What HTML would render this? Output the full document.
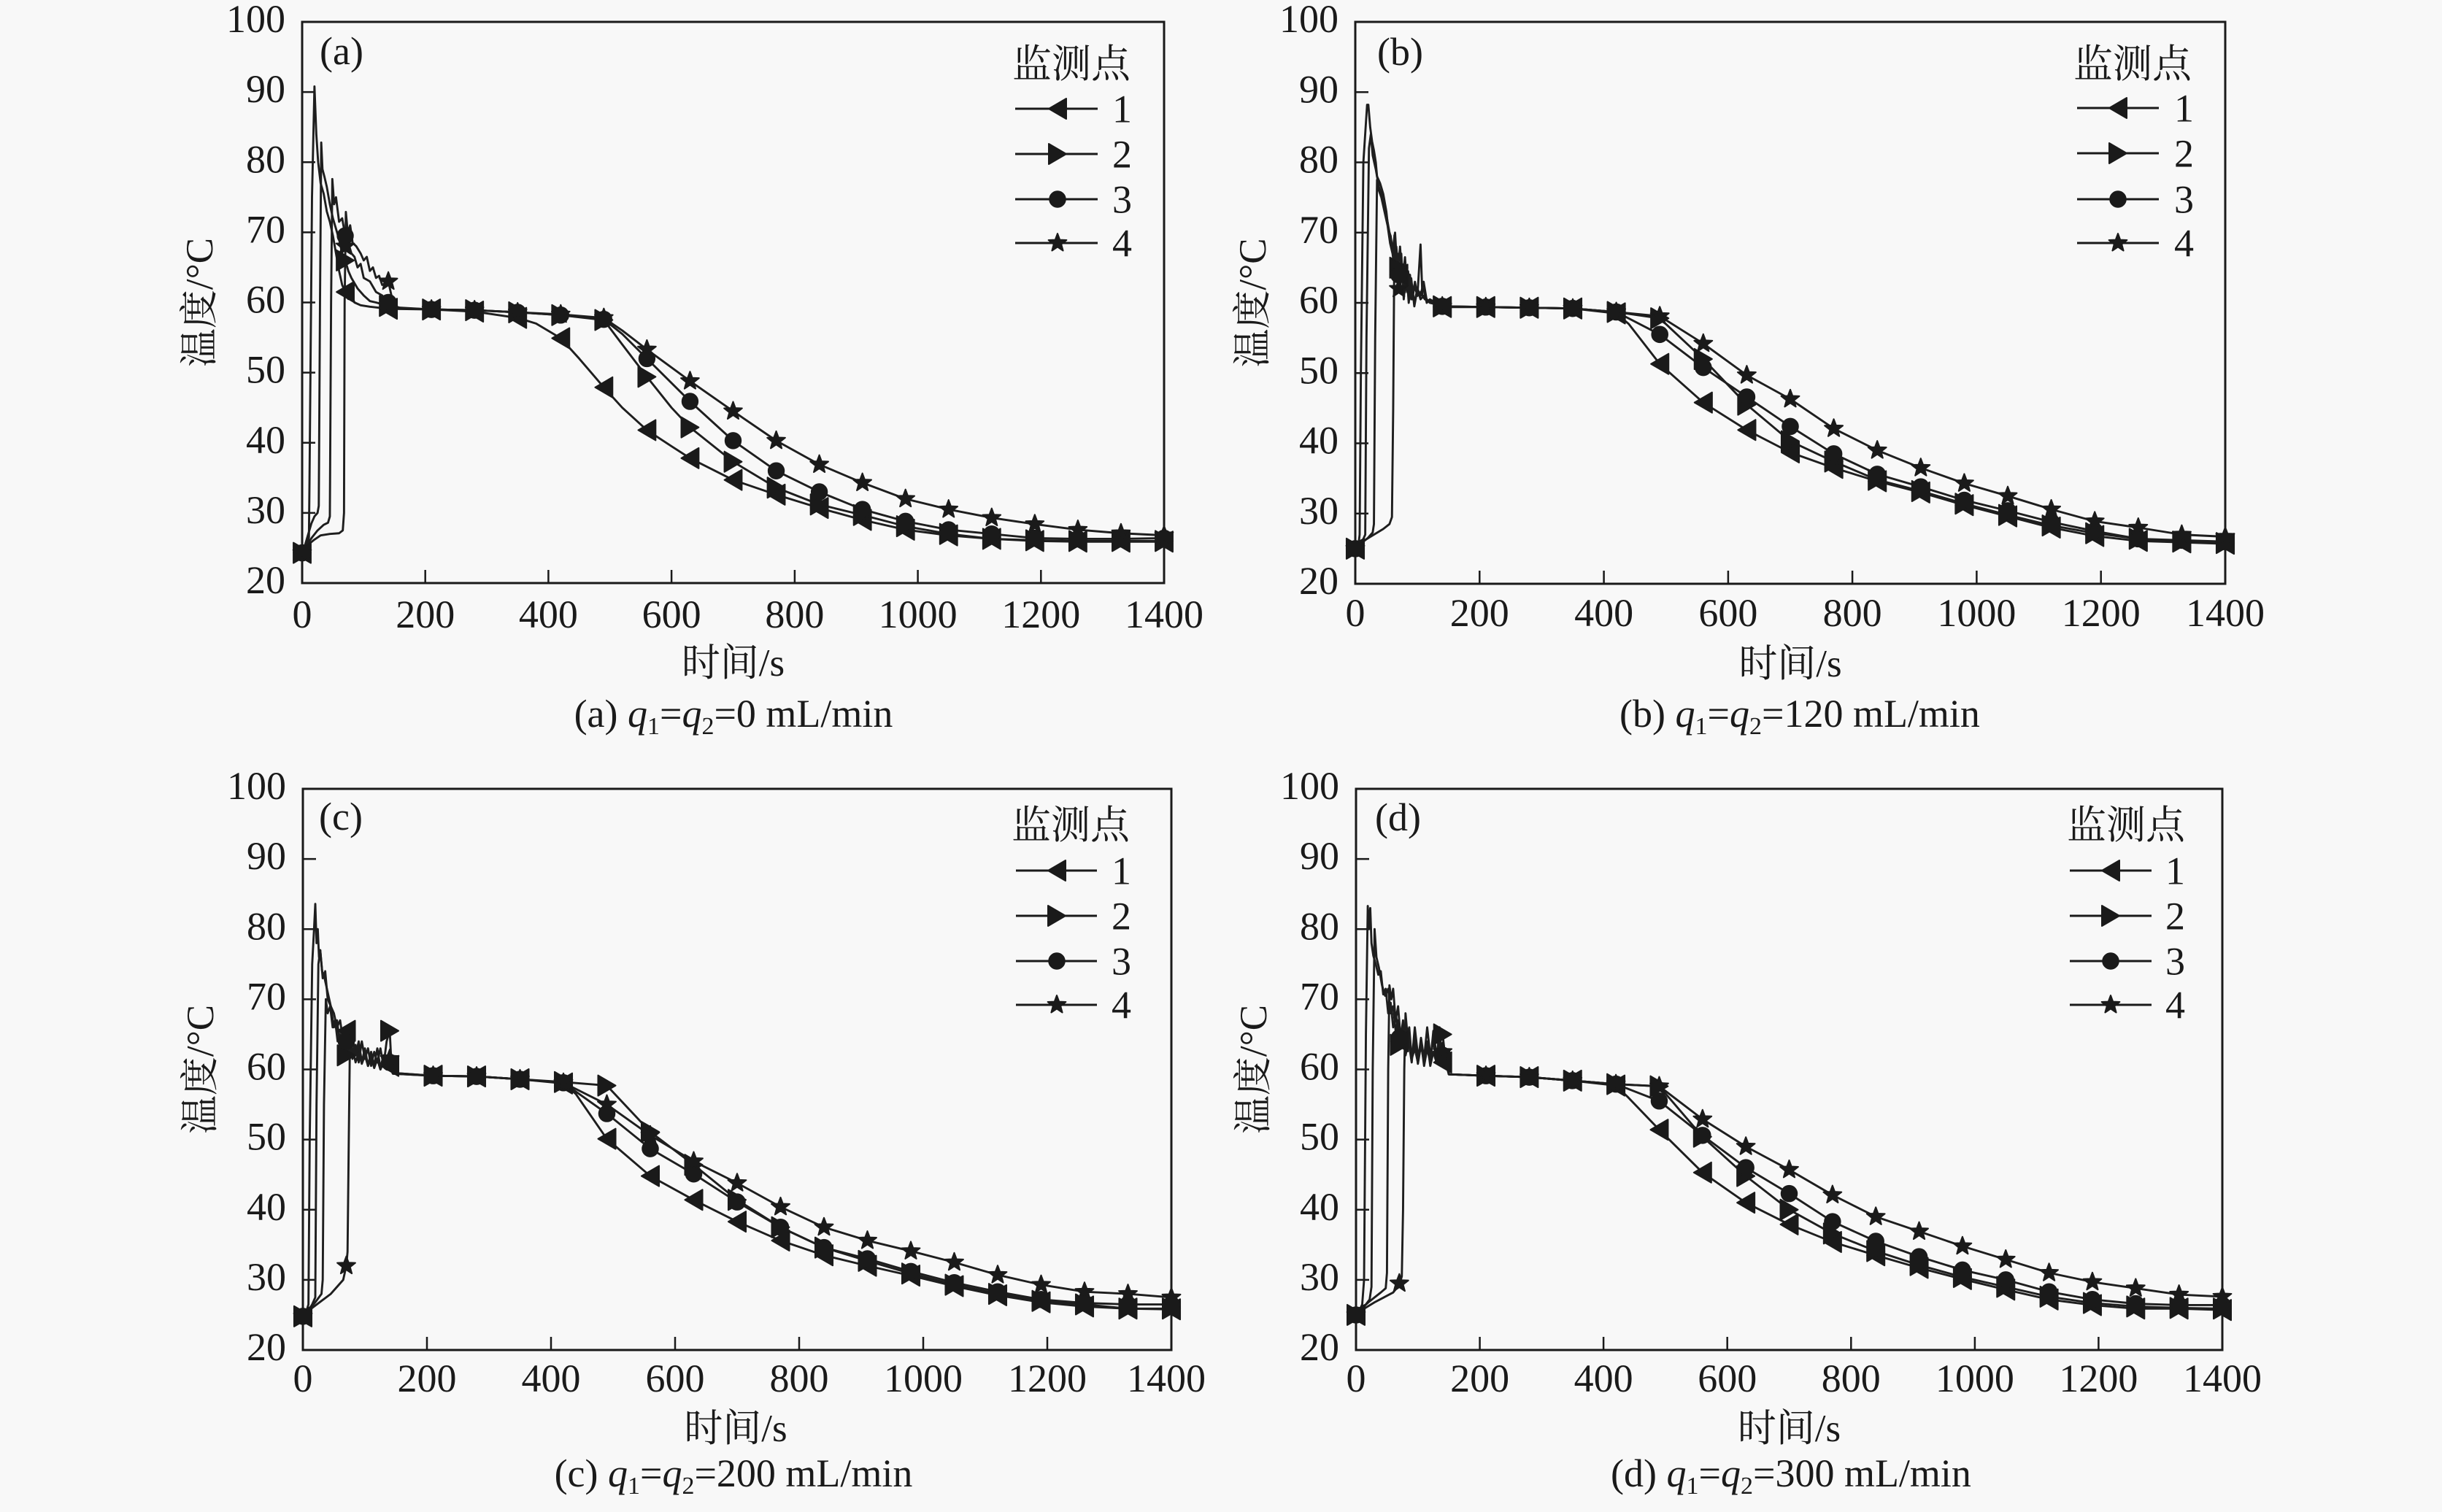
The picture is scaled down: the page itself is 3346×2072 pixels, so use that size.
<!DOCTYPE html>
<html><head><meta charset="utf-8"><style>
html,body{margin:0;padding:0;background:#f8f8f8;}
svg{display:block;font-family:"Liberation Serif","Noto Serif CJK SC",serif;}
text{font-family:"Liberation Serif","Noto Serif CJK SC",serif;fill:#1a1a1a;}
.ln{fill:none;stroke:#1e1e1e;stroke-width:2.9;vector-effect:non-scaling-stroke;stroke-linejoin:round;}
.ax{fill:none;stroke:#1a1a1a;stroke-width:3;}
.tk{fill:none;stroke:#1a1a1a;stroke-width:2.5;}
.lg{stroke:#1a1a1a;stroke-width:3;}
.t54{font-size:54px;}
</style></head><body>
<svg width="3346" height="2072" viewBox="0 0 3346 2072" xmlns="http://www.w3.org/2000/svg" font-family="Liberation Serif, Noto Serif CJK SC, serif">
<rect width="3346" height="2072" fill="#f8f8f8"/>
<defs>
<path id="pL" d="M-12,0L12,-14L12,14Z" stroke="#1a1a1a" stroke-width="2" stroke-linejoin="round"/>
<path id="pR" d="M12,0L-12,-14L-12,14Z" stroke="#1a1a1a" stroke-width="2" stroke-linejoin="round"/>
<circle id="pC" r="11" stroke="#1a1a1a" stroke-width="1.5"/>
<path id="pS" d="M0,-13L3.2,-4.4L12.4,-4L5.2,1.7L7.6,10.5L0,5.4L-7.6,10.5L-5.2,1.7L-12.4,-4L-3.2,-4.4Z" stroke="#1a1a1a" stroke-width="2" stroke-linejoin="round"/>
<g id="mL" transform="scale(1.1792,-0.10403)"><use href="#pL"/></g>
<g id="mR" transform="scale(1.1792,-0.10403)"><use href="#pR"/></g>
<g id="mC" transform="scale(1.1792,-0.10403)"><use href="#pC"/></g>
<g id="mS" transform="scale(1.1792,-0.10403)"><use href="#pS"/></g>
</defs>

<!-- ================= PANEL A ================= -->
<g>
<rect class="ax" x="414" y="30" width="1181" height="769"/>
<path class="tk" d="M414,702.9h18M414,606.75h18M414,510.6h18M414,414.5h18M414,318.4h18M414,222.25h18M414,126.1h18M582.7,799v-18M751.4,799v-18M920.1,799v-18M1088.9,799v-18M1257.6,799v-18M1426.3,799v-18"/>
<g class="t54" text-anchor="end">
<text x="391" y="44">100</text><text x="391" y="140.1">90</text><text x="391" y="236.25">80</text><text x="391" y="332.4">70</text><text x="391" y="428.5">60</text><text x="391" y="524.6">50</text><text x="391" y="620.75">40</text><text x="391" y="716.9">30</text><text x="391" y="813">20</text>
</g>
<g class="t54" text-anchor="middle">
<text x="414" y="860">0</text><text x="582.7" y="860">200</text><text x="751.4" y="860">400</text><text x="920.1" y="860">600</text><text x="1088.9" y="860">800</text><text x="1257.6" y="860">1000</text><text x="1426.3" y="860">1200</text><text x="1595" y="860">1400</text>
</g>
<text x="438" y="88" class="t54">(a)</text>
<text transform="translate(291,414.5) rotate(-90)" text-anchor="middle" font-size="53">温度/°C</text>
<text x="1004.5" y="926" text-anchor="middle" font-size="53">时间/s</text>
<text x="1005" y="996" text-anchor="middle" class="t54">(a) <tspan font-style="italic">q</tspan><tspan font-size="34" dy="10">1</tspan><tspan dy="-10">=</tspan><tspan font-style="italic">q</tspan><tspan font-size="34" dy="10">2</tspan><tspan dy="-10">=0 mL/min</tspan></text>
<text x="1549" y="106" text-anchor="end" class="t54">监测点</text>
<path class="lg" d="M1391,149H1504M1391,211H1504M1391,273H1504M1391,333H1504"/>
<g fill="#1a1a1a"><use href="#pL" x="1449" y="149"/><use href="#pR" x="1449" y="211"/><use href="#pC" x="1449" y="273"/><use href="#pS" x="1449" y="333"/></g>
<g class="t54"><text x="1524" y="167.5">1</text><text x="1524" y="229.5">2</text><text x="1524" y="291.5">3</text><text x="1524" y="351.5">4</text></g>
<g transform="matrix(0.84357 0 0 -9.6125 414 991.25)" fill="#1a1a1a">
<polyline class="ln" points="0,24.3 6,25 11,26.5 12,35 16,75 20,90.8 23,84 26,80 30,77 35,75.5 40,73 45,71.5 50,69.5 55,67 60,64.5 65,62.5 70,61.5 75,60.5 80,61 85,60 95,59.6 110,59.4 140,59.1 210,59 280,58.7 350,57.8 380,57 420,54.9 450,52 490,47.9 520,45 560,41.8 600,39.5 630,37.8 700,34.7 770,32.6 840,30.7 910,29 980,27.6 1050,26.8 1120,26.3 1190,26 1260,25.9 1330,25.9 1400,25.9"/>
<polyline class="ln" points="0,24.3 5,25.5 10,27 15,28.5 20,29.5 25,30 27,31 29,60 31,82.8 33,79 36,78 40,76.5 45,74 50,72 55,70.5 60,69 65,67 70,66 75,64.5 80,63.5 90,62 100,61 110,60.2 120,60 140,59.5 150,59.2 210,59 280,58.9 350,58.6 420,58.2 490,57.5 520,54 560,49.4 600,45 630,42.2 700,37.3 770,33.6 840,31.2 910,29.7 980,28.1 1050,27 1120,26.3 1190,26.1 1260,26 1330,26 1400,26"/>
<polyline class="ln" points="0,24.3 8,25.5 16,26.5 25,27.5 35,28.3 42,28.6 45,29.5 47,60 49,77.6 52,74 55,75 60,71.5 65,72 70,69.5 75,68.5 80,67 85,66.5 90,65 95,65.5 100,63.5 110,63 120,61.5 130,61 140,60 150,59.3 210,59 280,58.9 350,58.6 420,58.2 490,57.6 520,55.5 560,52 630,45.9 700,40.3 770,36 840,33 910,30.5 980,28.8 1050,27.6 1120,27 1190,26.4 1260,26.3 1330,26.3 1400,26.4"/>
<polyline class="ln" points="0,24.3 10,25.5 20,26.2 30,26.8 45,27 60,27.1 66,27.5 68,30 69,60 71,72.9 74,70 78,71 82,68.5 88,68 95,67 100,66 105,66.5 110,64.5 115,65 120,63.5 125,63.8 130,62.5 140,63 145,61 150,59.5 160,59.2 210,59 280,58.9 350,58.6 420,58.3 490,57.8 520,56 560,53.3 630,48.8 700,44.5 770,40.3 840,36.9 910,34.3 980,32 1050,30.5 1120,29.3 1190,28.4 1260,27.6 1330,27.1 1400,26.8"/>
<use href="#mL" x="0" y="24.3"/><use href="#mL" x="70" y="61.5"/><use href="#mL" x="140" y="59.1"/><use href="#mL" x="210" y="59"/><use href="#mL" x="280" y="58.7"/><use href="#mL" x="350" y="57.8"/><use href="#mL" x="420" y="54.9"/><use href="#mL" x="490" y="47.9"/><use href="#mL" x="560" y="41.8"/><use href="#mL" x="630" y="37.8"/><use href="#mL" x="700" y="34.7"/><use href="#mL" x="770" y="32.6"/><use href="#mL" x="840" y="30.7"/><use href="#mL" x="910" y="29"/><use href="#mL" x="980" y="27.6"/><use href="#mL" x="1050" y="26.8"/><use href="#mL" x="1120" y="26.3"/><use href="#mL" x="1190" y="26"/><use href="#mL" x="1260" y="25.9"/><use href="#mL" x="1330" y="25.9"/><use href="#mL" x="1400" y="25.9"/>
<use href="#mR" x="0" y="24.3"/><use href="#mR" x="70" y="66"/><use href="#mR" x="140" y="59.5"/><use href="#mR" x="210" y="59"/><use href="#mR" x="280" y="58.9"/><use href="#mR" x="350" y="58.6"/><use href="#mR" x="420" y="58.2"/><use href="#mR" x="490" y="57.5"/><use href="#mR" x="560" y="49.4"/><use href="#mR" x="630" y="42.2"/><use href="#mR" x="700" y="37.3"/><use href="#mR" x="770" y="33.6"/><use href="#mR" x="840" y="31.2"/><use href="#mR" x="910" y="29.7"/><use href="#mR" x="980" y="28.1"/><use href="#mR" x="1050" y="27"/><use href="#mR" x="1120" y="26.3"/><use href="#mR" x="1190" y="26.1"/><use href="#mR" x="1260" y="26"/><use href="#mR" x="1330" y="26"/><use href="#mR" x="1400" y="26"/>
<use href="#mC" x="0" y="24.3"/><use href="#mC" x="70" y="69.5"/><use href="#mC" x="140" y="60"/><use href="#mC" x="210" y="59"/><use href="#mC" x="280" y="58.9"/><use href="#mC" x="350" y="58.6"/><use href="#mC" x="420" y="58.2"/><use href="#mC" x="490" y="57.6"/><use href="#mC" x="560" y="52"/><use href="#mC" x="630" y="45.9"/><use href="#mC" x="700" y="40.3"/><use href="#mC" x="770" y="36"/><use href="#mC" x="840" y="33"/><use href="#mC" x="910" y="30.5"/><use href="#mC" x="980" y="28.8"/><use href="#mC" x="1050" y="27.6"/><use href="#mC" x="1120" y="27"/><use href="#mC" x="1190" y="26.4"/><use href="#mC" x="1260" y="26.3"/><use href="#mC" x="1330" y="26.3"/><use href="#mC" x="1400" y="26.4"/>
<use href="#mS" x="0" y="24.3"/><use href="#mS" x="70" y="68"/><use href="#mS" x="140" y="63"/><use href="#mS" x="210" y="59"/><use href="#mS" x="280" y="58.9"/><use href="#mS" x="350" y="58.6"/><use href="#mS" x="420" y="58.3"/><use href="#mS" x="490" y="57.8"/><use href="#mS" x="560" y="53.3"/><use href="#mS" x="630" y="48.8"/><use href="#mS" x="700" y="44.5"/><use href="#mS" x="770" y="40.3"/><use href="#mS" x="840" y="36.9"/><use href="#mS" x="910" y="34.3"/><use href="#mS" x="980" y="32"/><use href="#mS" x="1050" y="30.5"/><use href="#mS" x="1120" y="29.3"/><use href="#mS" x="1190" y="28.4"/><use href="#mS" x="1260" y="27.6"/><use href="#mS" x="1330" y="27.1"/><use href="#mS" x="1400" y="26.8"/>
</g>
</g>

<!-- ================= PANEL B ================= -->
<g>
<rect class="ax" x="1857" y="30" width="1192" height="770"/>
<path class="tk" d="M1857,703.75h18M1857,607.5h18M1857,511.25h18M1857,415h18M1857,318.75h18M1857,222.5h18M1857,126.25h18M2027.3,800v-18M2197.6,800v-18M2367.9,800v-18M2538.1,800v-18M2708.4,800v-18M2878.7,800v-18"/>
<g class="t54" text-anchor="end">
<text x="1834" y="44">100</text><text x="1834" y="140.25">90</text><text x="1834" y="236.5">80</text><text x="1834" y="332.75">70</text><text x="1834" y="429">60</text><text x="1834" y="525.25">50</text><text x="1834" y="621.5">40</text><text x="1834" y="717.75">30</text><text x="1834" y="814">20</text>
</g>
<g class="t54" text-anchor="middle">
<text x="1857" y="858">0</text><text x="2027.3" y="858">200</text><text x="2197.6" y="858">400</text><text x="2367.9" y="858">600</text><text x="2538.1" y="858">800</text><text x="2708.4" y="858">1000</text><text x="2878.7" y="858">1200</text><text x="3049" y="858">1400</text>
</g>
<text x="1887" y="89" class="t54">(b)</text>
<text transform="translate(1734,415) rotate(-90)" text-anchor="middle" font-size="53">温度/°C</text>
<text x="2453" y="927" text-anchor="middle" font-size="53">时间/s</text>
<text x="2466" y="996" text-anchor="middle" class="t54">(b) <tspan font-style="italic">q</tspan><tspan font-size="34" dy="10">1</tspan><tspan dy="-10">=</tspan><tspan font-style="italic">q</tspan><tspan font-size="34" dy="10">2</tspan><tspan dy="-10">=120 mL/min</tspan></text>
<text x="3003" y="106" text-anchor="end" class="t54">监测点</text>
<path class="lg" d="M2846,148H2958M2846,210H2958M2846,273H2958M2846,333H2958"/>
<g fill="#1a1a1a"><use href="#pL" x="2902" y="148"/><use href="#pR" x="2902" y="210"/><use href="#pC" x="2902" y="273"/><use href="#pS" x="2902" y="333"/></g>
<g class="t54"><text x="2979" y="166.5">1</text><text x="2979" y="228.5">2</text><text x="2979" y="291.5">3</text><text x="2979" y="351.5">4</text></g>
<g transform="matrix(0.85143 0 0 -9.625 1857 992.5)" fill="#1a1a1a">
<polyline class="ln" points="0,25 5,25.5 7,27 9,50 13,80 19,88.2 21,88.2 24,85 27,83 30,81.7 33,80 35,78 40,77 45,75.5 50,73 53,70.5 57,69.5 62,66 66,68 70,64 74,66 78,62 82,65 86,61 90,63 95,60 100,62 105,60.5 110,61 120,60 130,59.8 140,59.4 210,59.4 280,59.3 350,59.2 420,58.5 440,57 490,51.3 560,45.8 630,41.9 700,38.7 770,36.5 840,34.6 910,33 980,31.2 1050,29.6 1120,28 1190,26.8 1260,26.1 1330,25.9 1400,25.7"/>
<polyline class="ln" points="0,25 6,25.6 12,26.2 16,27 18,55 22,82 25,84 28,81 33,79 38,76.5 44,75 50,72.5 55,70 60,67.5 64,70 68,64 72,68 76,63 80,66.5 84,61.5 88,64 92,60.5 96,63 100,61 105,68.3 108,61 112,60.5 120,60.3 130,60 140,59.5 210,59.4 280,59.3 350,59.2 420,58.7 490,57.8 560,52 630,45.5 700,40.3 770,37.4 840,34.8 910,33.2 980,31.4 1050,29.8 1120,28.3 1190,27.2 1260,26.4 1330,26 1400,25.8"/>
<polyline class="ln" points="0,25 10,25.8 20,26.5 28,27.3 30,28.5 32,55 35,77.5 38,76 42,75 47,73 52,71 56,68.5 60,67 64,64 68,67 72,62 76,65.5 80,61.5 85,64.5 90,60.5 95,62.5 100,61 110,62 115,60 120,60.5 130,60 140,59.5 210,59.4 280,59.3 350,59.2 420,58.7 490,55.5 560,50.8 630,46.6 700,42.4 770,38.5 840,35.6 910,33.8 980,31.9 1050,30.4 1120,28.8 1190,27.5 1260,26.4 1330,26.2 1400,26"/>
<polyline class="ln" points="0,25 15,26.2 30,27 45,27.8 55,28.5 59,29.5 61,45 63,69.6 66,66 70,62 74,67 78,60.5 82,65 86,60 90,63.5 95,59.5 100,62 105,61 110,63 115,60.3 125,60 140,59.5 210,59.4 280,59.3 350,59.2 420,58.7 490,58.1 560,54.2 630,49.7 700,46.3 770,42.1 840,39 910,36.5 980,34.3 1050,32.5 1120,30.6 1190,28.9 1260,28 1330,27 1400,26.7"/>
<use href="#mL" x="0" y="25"/><use href="#mL" x="70" y="64"/><use href="#mL" x="140" y="59.4"/><use href="#mL" x="210" y="59.4"/><use href="#mL" x="280" y="59.3"/><use href="#mL" x="350" y="59.2"/><use href="#mL" x="420" y="58.5"/><use href="#mL" x="490" y="51.3"/><use href="#mL" x="560" y="45.8"/><use href="#mL" x="630" y="41.9"/><use href="#mL" x="700" y="38.7"/><use href="#mL" x="770" y="36.5"/><use href="#mL" x="840" y="34.6"/><use href="#mL" x="910" y="33"/><use href="#mL" x="980" y="31.2"/><use href="#mL" x="1050" y="29.6"/><use href="#mL" x="1120" y="28"/><use href="#mL" x="1190" y="26.8"/><use href="#mL" x="1260" y="26.1"/><use href="#mL" x="1330" y="25.9"/><use href="#mL" x="1400" y="25.7"/>
<use href="#mR" x="0" y="25"/><use href="#mR" x="70" y="65"/><use href="#mR" x="140" y="59.5"/><use href="#mR" x="210" y="59.4"/><use href="#mR" x="280" y="59.3"/><use href="#mR" x="350" y="59.2"/><use href="#mR" x="420" y="58.7"/><use href="#mR" x="490" y="57.8"/><use href="#mR" x="560" y="52"/><use href="#mR" x="630" y="45.5"/><use href="#mR" x="700" y="40.3"/><use href="#mR" x="770" y="37.4"/><use href="#mR" x="840" y="34.8"/><use href="#mR" x="910" y="33.2"/><use href="#mR" x="980" y="31.4"/><use href="#mR" x="1050" y="29.8"/><use href="#mR" x="1120" y="28.3"/><use href="#mR" x="1190" y="27.2"/><use href="#mR" x="1260" y="26.4"/><use href="#mR" x="1330" y="26"/><use href="#mR" x="1400" y="25.8"/>
<use href="#mC" x="0" y="25"/><use href="#mC" x="70" y="64"/><use href="#mC" x="140" y="59.5"/><use href="#mC" x="210" y="59.4"/><use href="#mC" x="280" y="59.3"/><use href="#mC" x="350" y="59.2"/><use href="#mC" x="420" y="58.7"/><use href="#mC" x="490" y="55.5"/><use href="#mC" x="560" y="50.8"/><use href="#mC" x="630" y="46.6"/><use href="#mC" x="700" y="42.4"/><use href="#mC" x="770" y="38.5"/><use href="#mC" x="840" y="35.6"/><use href="#mC" x="910" y="33.8"/><use href="#mC" x="980" y="31.9"/><use href="#mC" x="1050" y="30.4"/><use href="#mC" x="1120" y="28.8"/><use href="#mC" x="1190" y="27.5"/><use href="#mC" x="1260" y="26.4"/><use href="#mC" x="1330" y="26.2"/><use href="#mC" x="1400" y="26"/>
<use href="#mS" x="0" y="25"/><use href="#mS" x="70" y="62"/><use href="#mS" x="140" y="59.5"/><use href="#mS" x="210" y="59.4"/><use href="#mS" x="280" y="59.3"/><use href="#mS" x="350" y="59.2"/><use href="#mS" x="420" y="58.7"/><use href="#mS" x="490" y="58.1"/><use href="#mS" x="560" y="54.2"/><use href="#mS" x="630" y="49.7"/><use href="#mS" x="700" y="46.3"/><use href="#mS" x="770" y="42.1"/><use href="#mS" x="840" y="39"/><use href="#mS" x="910" y="36.5"/><use href="#mS" x="980" y="34.3"/><use href="#mS" x="1050" y="32.5"/><use href="#mS" x="1120" y="30.6"/><use href="#mS" x="1190" y="28.9"/><use href="#mS" x="1260" y="28"/><use href="#mS" x="1330" y="27"/><use href="#mS" x="1400" y="26.7"/>
</g>
</g>

<!-- ================= PANEL C ================= -->
<g>
<rect class="ax" x="415" y="1081" width="1190" height="769"/>
<path class="tk" d="M415,1753.9h18M415,1657.75h18M415,1561.6h18M415,1465.5h18M415,1369.4h18M415,1273.25h18M415,1177.1h18M585,1850v-18M755,1850v-18M925,1850v-18M1095,1850v-18M1265,1850v-18M1435,1850v-18"/>
<g class="t54" text-anchor="end">
<text x="392" y="1095">100</text><text x="392" y="1191.1">90</text><text x="392" y="1287.25">80</text><text x="392" y="1383.4">70</text><text x="392" y="1479.5">60</text><text x="392" y="1575.6">50</text><text x="392" y="1671.75">40</text><text x="392" y="1767.9">30</text><text x="392" y="1864">20</text>
</g>
<g class="t54" text-anchor="middle">
<text x="415" y="1907">0</text><text x="585" y="1907">200</text><text x="755" y="1907">400</text><text x="925" y="1907">600</text><text x="1095" y="1907">800</text><text x="1265" y="1907">1000</text><text x="1435" y="1907">1200</text><text x="1598" y="1907">1400</text>
</g>
<text x="437" y="1137" class="t54">(c)</text>
<text transform="translate(292,1465.5) rotate(-90)" text-anchor="middle" font-size="53">温度/°C</text>
<text x="1008" y="1975" text-anchor="middle" font-size="53">时间/s</text>
<text x="1005" y="2037" text-anchor="middle" class="t54">(c) <tspan font-style="italic">q</tspan><tspan font-size="34" dy="10">1</tspan><tspan dy="-10">=</tspan><tspan font-style="italic">q</tspan><tspan font-size="34" dy="10">2</tspan><tspan dy="-10">=200 mL/min</tspan></text>
<text x="1548" y="1149" text-anchor="end" class="t54">监测点</text>
<path class="lg" d="M1392,1193H1503M1392,1255H1503M1392,1317H1503M1392,1377H1503"/>
<g fill="#1a1a1a"><use href="#pL" x="1448" y="1193"/><use href="#pR" x="1448" y="1255"/><use href="#pC" x="1448" y="1317"/><use href="#pS" x="1448" y="1377"/></g>
<g class="t54"><text x="1523" y="1211.5">1</text><text x="1523" y="1273.5">2</text><text x="1523" y="1335.5">3</text><text x="1523" y="1395.5">4</text></g>
<g transform="matrix(0.85 0 0 -9.6125 415 2042.25)" fill="#1a1a1a">
<polyline class="ln" points="0,24.8 5,25.3 9,26.5 11,50 15,75 18,80 20,83.6 22,78 24,80 26,76 28,77 31,74 35,73 40,71 45,69 50,68 55,66 60,67 65,64 70,65.5 75,62.5 80,64 85,62 90,63 95,61 100,62.5 105,60.5 110,62 115,60.3 120,61.5 125,60 130,61 135,60.2 140,60.5 145,59.4 210,59.1 280,59 350,58.6 420,58 440,56.5 490,50.1 560,44.8 630,41.4 700,38.3 770,35.6 840,33.5 910,32 980,30.6 1050,29.1 1120,27.8 1190,26.8 1260,26.2 1330,25.9 1400,25.8"/>
<polyline class="ln" points="0,24.8 8,25.5 15,26.5 20,27.5 22,55 25,75 28,77 32,73 36,74 40,70 45,69 50,66 55,67 60,63.5 65,65.5 70,62 75,64.5 80,61.5 85,63.5 90,61 95,64 100,61.5 105,63 110,60.5 115,62.5 120,61 125,63 130,60.5 135,64 140,65.5 142,62 145,59.5 210,59.1 280,59 350,58.6 420,58.2 490,57.7 560,51.1 630,46.4 700,41.4 770,37.5 840,34.6 910,32.7 980,30.9 1050,29.3 1120,28 1190,27 1260,26.5 1330,25.9 1400,25.9"/>
<polyline class="ln" points="0,24.8 10,25.8 20,26.8 30,28 32,30 34,55 37,70 40,68 44,69 48,66 52,67 56,64 60,65 65,62.5 70,64 75,61.5 80,63 85,61 90,62.5 95,60.8 100,62 105,60.5 110,61.8 115,60.2 120,61.5 125,60 130,62 135,60 140,61 145,59.4 210,59.1 280,59 350,58.6 420,58.1 490,53.7 560,48.7 630,45.1 700,41.1 770,37.5 840,34.6 910,33 980,31.2 1050,29.6 1120,28.3 1190,27.2 1260,26.7 1330,26.5 1400,26.5"/>
<polyline class="ln" points="0,24.8 15,26 30,27 45,28 55,29 65,30 70,32 72,34 74,50 76,65 80,64.5 85,62 90,64 95,61 100,63 105,60.5 110,62.5 115,60.5 120,63 125,60.2 130,62 135,60.5 140,61.5 145,59.5 210,59.1 280,59 350,58.6 420,58.1 490,55 560,50.6 630,46.9 700,43.8 770,40.4 840,37.5 910,35.6 980,34.1 1050,32.5 1120,30.7 1190,29.3 1260,28.3 1330,28 1400,27.5"/>
<use href="#mL" x="0" y="24.8"/><use href="#mL" x="70" y="65.5"/><use href="#mL" x="140" y="60.5"/><use href="#mL" x="210" y="59.1"/><use href="#mL" x="280" y="59"/><use href="#mL" x="350" y="58.6"/><use href="#mL" x="420" y="58"/><use href="#mL" x="490" y="50.1"/><use href="#mL" x="560" y="44.8"/><use href="#mL" x="630" y="41.4"/><use href="#mL" x="700" y="38.3"/><use href="#mL" x="770" y="35.6"/><use href="#mL" x="840" y="33.5"/><use href="#mL" x="910" y="32"/><use href="#mL" x="980" y="30.6"/><use href="#mL" x="1050" y="29.1"/><use href="#mL" x="1120" y="27.8"/><use href="#mL" x="1190" y="26.8"/><use href="#mL" x="1260" y="26.2"/><use href="#mL" x="1330" y="25.9"/><use href="#mL" x="1400" y="25.8"/>
<use href="#mR" x="0" y="24.8"/><use href="#mR" x="70" y="62"/><use href="#mR" x="140" y="65.5"/><use href="#mR" x="210" y="59.1"/><use href="#mR" x="280" y="59"/><use href="#mR" x="350" y="58.6"/><use href="#mR" x="420" y="58.2"/><use href="#mR" x="490" y="57.7"/><use href="#mR" x="560" y="51.1"/><use href="#mR" x="630" y="46.4"/><use href="#mR" x="700" y="41.4"/><use href="#mR" x="770" y="37.5"/><use href="#mR" x="840" y="34.6"/><use href="#mR" x="910" y="32.7"/><use href="#mR" x="980" y="30.9"/><use href="#mR" x="1050" y="29.3"/><use href="#mR" x="1120" y="28"/><use href="#mR" x="1190" y="27"/><use href="#mR" x="1260" y="26.5"/><use href="#mR" x="1330" y="25.9"/><use href="#mR" x="1400" y="25.9"/>
<use href="#mC" x="0" y="24.8"/><use href="#mC" x="70" y="64"/><use href="#mC" x="140" y="61"/><use href="#mC" x="210" y="59.1"/><use href="#mC" x="280" y="59"/><use href="#mC" x="350" y="58.6"/><use href="#mC" x="420" y="58.1"/><use href="#mC" x="490" y="53.7"/><use href="#mC" x="560" y="48.7"/><use href="#mC" x="630" y="45.1"/><use href="#mC" x="700" y="41.1"/><use href="#mC" x="770" y="37.5"/><use href="#mC" x="840" y="34.6"/><use href="#mC" x="910" y="33"/><use href="#mC" x="980" y="31.2"/><use href="#mC" x="1050" y="29.6"/><use href="#mC" x="1120" y="28.3"/><use href="#mC" x="1190" y="27.2"/><use href="#mC" x="1260" y="26.7"/><use href="#mC" x="1330" y="26.5"/><use href="#mC" x="1400" y="26.5"/>
<use href="#mS" x="0" y="24.8"/><use href="#mS" x="70" y="32"/><use href="#mS" x="140" y="61.5"/><use href="#mS" x="210" y="59.1"/><use href="#mS" x="280" y="59"/><use href="#mS" x="350" y="58.6"/><use href="#mS" x="420" y="58.1"/><use href="#mS" x="490" y="55"/><use href="#mS" x="560" y="50.6"/><use href="#mS" x="630" y="46.9"/><use href="#mS" x="700" y="43.8"/><use href="#mS" x="770" y="40.4"/><use href="#mS" x="840" y="37.5"/><use href="#mS" x="910" y="35.6"/><use href="#mS" x="980" y="34.1"/><use href="#mS" x="1050" y="32.5"/><use href="#mS" x="1120" y="30.7"/><use href="#mS" x="1190" y="29.3"/><use href="#mS" x="1260" y="28.3"/><use href="#mS" x="1330" y="28"/><use href="#mS" x="1400" y="27.5"/>
</g>
</g>

<!-- ================= PANEL D ================= -->
<g>
<rect class="ax" x="1858" y="1081" width="1187" height="769"/>
<path class="tk" d="M1858,1753.9h18M1858,1657.75h18M1858,1561.6h18M1858,1465.5h18M1858,1369.4h18M1858,1273.25h18M1858,1177.1h18M2027.6,1850v-18M2197.1,1850v-18M2366.7,1850v-18M2536.3,1850v-18M2705.9,1850v-18M2875.4,1850v-18"/>
<g class="t54" text-anchor="end">
<text x="1835" y="1095">100</text><text x="1835" y="1191.1">90</text><text x="1835" y="1287.25">80</text><text x="1835" y="1383.4">70</text><text x="1835" y="1479.5">60</text><text x="1835" y="1575.6">50</text><text x="1835" y="1671.75">40</text><text x="1835" y="1767.9">30</text><text x="1835" y="1864">20</text>
</g>
<g class="t54" text-anchor="middle">
<text x="1858" y="1907">0</text><text x="2027.6" y="1907">200</text><text x="2197.1" y="1907">400</text><text x="2366.7" y="1907">600</text><text x="2536.3" y="1907">800</text><text x="2705.9" y="1907">1000</text><text x="2875.4" y="1907">1200</text><text x="3045" y="1907">1400</text>
</g>
<text x="1884" y="1138" class="t54">(d)</text>
<text transform="translate(1735,1465.5) rotate(-90)" text-anchor="middle" font-size="53">温度/°C</text>
<text x="2451.5" y="1975" text-anchor="middle" font-size="53">时间/s</text>
<text x="2454" y="2037" text-anchor="middle" class="t54">(d) <tspan font-style="italic">q</tspan><tspan font-size="34" dy="10">1</tspan><tspan dy="-10">=</tspan><tspan font-style="italic">q</tspan><tspan font-size="34" dy="10">2</tspan><tspan dy="-10">=300 mL/min</tspan></text>
<text x="2994" y="1149" text-anchor="end" class="t54">监测点</text>
<path class="lg" d="M2836,1193H2948M2836,1255H2948M2836,1317H2948M2836,1377H2948"/>
<g fill="#1a1a1a"><use href="#pL" x="2892" y="1193"/><use href="#pR" x="2892" y="1255"/><use href="#pC" x="2892" y="1317"/><use href="#pS" x="2892" y="1377"/></g>
<g class="t54"><text x="2967" y="1211.5">1</text><text x="2967" y="1273.5">2</text><text x="2967" y="1335.5">3</text><text x="2967" y="1395.5">4</text></g>
<g transform="matrix(0.84786 0 0 -9.6125 1858 2042.25)" fill="#1a1a1a">
<polyline class="ln" points="0,25 5,25.5 10,26.5 13,30 16,65 19,83.3 21,80 23,83 25,78 28,76.2 32,75 36,73.5 40,74 44,70.7 48,71.5 52,68 56,69.5 60,66 65,67.5 70,64 75,66 80,62.5 85,64.5 90,61.5 95,63.5 100,61 105,64 110,60.5 115,63 120,61 125,65 130,61.5 135,64 140,61 145,62 150,59.3 210,59.1 280,58.9 350,58.4 420,57.7 440,56 490,51.4 560,45.3 630,41 700,37.9 770,35.4 840,33.5 910,31.7 980,30.1 1050,28.6 1120,27.2 1190,26.4 1260,25.9 1330,25.9 1400,25.7"/>
<polyline class="ln" points="0,25 8,25.8 16,26.5 22,27.2 25,29 27,60 30,80 33,76 37,74.5 42,72 47,70.5 52,71.5 56,68 60,69 64,65.5 68,67 72,63.5 76,65.5 80,62 85,64 90,61 95,66 100,62 105,63.5 110,61 115,64 120,60.5 125,62.5 130,61 135,66 140,65 145,61 150,59.3 210,59.1 280,58.9 350,58.4 420,57.9 490,57.6 560,50.4 630,44.8 700,40 770,36.6 840,34.1 910,32.1 980,30.4 1050,29 1120,27.6 1190,26.7 1260,26.2 1330,26 1400,25.9"/>
<polyline class="ln" points="0,25 10,26 20,26.8 30,27.5 40,28.2 48,28.8 50,31 52,60 54,72 57,70 60,71.5 64,67 68,69 72,64.5 76,67 80,62.5 85,65.5 90,61.5 95,64.5 100,60.8 105,63.5 110,61.5 115,66 120,62 125,64 130,61 135,65 140,62 145,63 150,59.3 210,59.1 280,58.9 350,58.4 420,57.9 490,55.5 560,50.6 630,46 700,42.3 770,38.3 840,35.5 910,33.3 980,31.4 1050,30 1120,28.3 1190,27.2 1260,26.6 1330,26.4 1400,26.4"/>
<polyline class="ln" points="0,25 15,26 30,26.8 45,27.5 60,28.2 70,29.3 74,30.5 76,40 78,60 80,68 83,65 86,66 90,61.5 95,63 100,61 105,64.5 110,61.5 115,63.5 120,61 125,65.5 130,62 135,64 140,62.5 145,61 150,59.3 210,59.1 280,58.9 350,58.4 420,57.9 490,57.6 560,52.9 630,49 700,45.7 770,42.1 840,39 910,36.9 980,34.8 1050,32.9 1120,31 1190,29.7 1260,28.8 1330,27.9 1400,27.6"/>
<use href="#mL" x="0" y="25"/><use href="#mL" x="70" y="64"/><use href="#mL" x="140" y="61"/><use href="#mL" x="210" y="59.1"/><use href="#mL" x="280" y="58.9"/><use href="#mL" x="350" y="58.4"/><use href="#mL" x="420" y="57.7"/><use href="#mL" x="490" y="51.4"/><use href="#mL" x="560" y="45.3"/><use href="#mL" x="630" y="41"/><use href="#mL" x="700" y="37.9"/><use href="#mL" x="770" y="35.4"/><use href="#mL" x="840" y="33.5"/><use href="#mL" x="910" y="31.7"/><use href="#mL" x="980" y="30.1"/><use href="#mL" x="1050" y="28.6"/><use href="#mL" x="1120" y="27.2"/><use href="#mL" x="1190" y="26.4"/><use href="#mL" x="1260" y="25.9"/><use href="#mL" x="1330" y="25.9"/><use href="#mL" x="1400" y="25.7"/>
<use href="#mR" x="0" y="25"/><use href="#mR" x="70" y="63.5"/><use href="#mR" x="140" y="65"/><use href="#mR" x="210" y="59.1"/><use href="#mR" x="280" y="58.9"/><use href="#mR" x="350" y="58.4"/><use href="#mR" x="420" y="57.9"/><use href="#mR" x="490" y="57.6"/><use href="#mR" x="560" y="50.4"/><use href="#mR" x="630" y="44.8"/><use href="#mR" x="700" y="40"/><use href="#mR" x="770" y="36.6"/><use href="#mR" x="840" y="34.1"/><use href="#mR" x="910" y="32.1"/><use href="#mR" x="980" y="30.4"/><use href="#mR" x="1050" y="29"/><use href="#mR" x="1120" y="27.6"/><use href="#mR" x="1190" y="26.7"/><use href="#mR" x="1260" y="26.2"/><use href="#mR" x="1330" y="26"/><use href="#mR" x="1400" y="25.9"/>
<use href="#mC" x="0" y="25"/><use href="#mC" x="70" y="64.5"/><use href="#mC" x="140" y="62"/><use href="#mC" x="210" y="59.1"/><use href="#mC" x="280" y="58.9"/><use href="#mC" x="350" y="58.4"/><use href="#mC" x="420" y="57.9"/><use href="#mC" x="490" y="55.5"/><use href="#mC" x="560" y="50.6"/><use href="#mC" x="630" y="46"/><use href="#mC" x="700" y="42.3"/><use href="#mC" x="770" y="38.3"/><use href="#mC" x="840" y="35.5"/><use href="#mC" x="910" y="33.3"/><use href="#mC" x="980" y="31.4"/><use href="#mC" x="1050" y="30"/><use href="#mC" x="1120" y="28.3"/><use href="#mC" x="1190" y="27.2"/><use href="#mC" x="1260" y="26.6"/><use href="#mC" x="1330" y="26.4"/><use href="#mC" x="1400" y="26.4"/>
<use href="#mS" x="0" y="25"/><use href="#mS" x="70" y="29.5"/><use href="#mS" x="140" y="62.5"/><use href="#mS" x="210" y="59.1"/><use href="#mS" x="280" y="58.9"/><use href="#mS" x="350" y="58.4"/><use href="#mS" x="420" y="57.9"/><use href="#mS" x="490" y="57.6"/><use href="#mS" x="560" y="52.9"/><use href="#mS" x="630" y="49"/><use href="#mS" x="700" y="45.7"/><use href="#mS" x="770" y="42.1"/><use href="#mS" x="840" y="39"/><use href="#mS" x="910" y="36.9"/><use href="#mS" x="980" y="34.8"/><use href="#mS" x="1050" y="32.9"/><use href="#mS" x="1120" y="31"/><use href="#mS" x="1190" y="29.7"/><use href="#mS" x="1260" y="28.8"/><use href="#mS" x="1330" y="27.9"/><use href="#mS" x="1400" y="27.6"/>
</g>
</g>
</svg>
</body></html>
